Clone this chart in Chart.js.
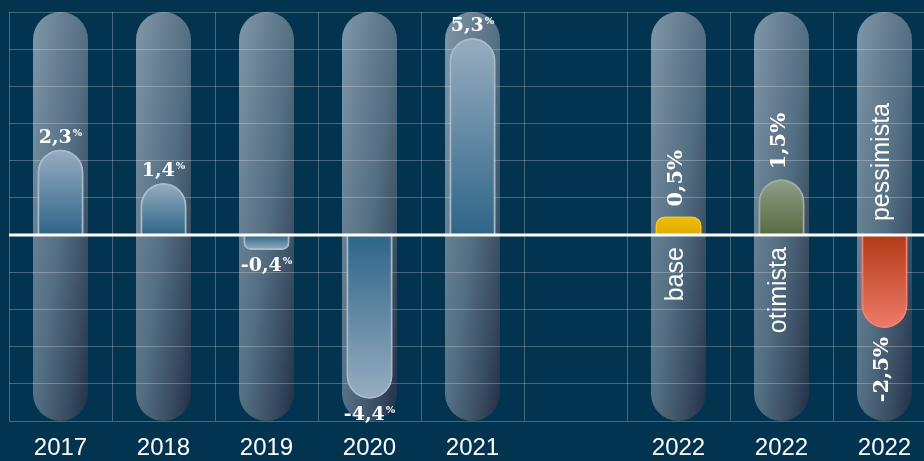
<!DOCTYPE html>
<html>
<head>
<meta charset="utf-8">
<script src="https://cdn.jsdelivr.net/npm/chart.js@4.4.1/dist/chart.umd.min.js"></script>
<style>
html, body { margin: 0; padding: 0; background: #03344f; overflow: hidden; width: 924px; height: 461px; }
#wrap { position: absolute; left: 0; top: 0; width: 960px; height: 476px; }
</style>
</head>
<body>
<div id="wrap"><canvas id="myChart"></canvas></div>
<script>
// data
let years = ['2017', '2018', '2019', '2020', '2021', '', '2022', '2022', '2022']
let growth = [2.3, 1.4, -0.4, -4.4, 5.3, null, 0.5, 1.5, -2.5]
let valueLabels = ['2,3', '1,4', '-0,4', '-4,4', '5,3', '', '0,5', '1,5', '-2,5']
let scenarios = ['', '', '', '', '', '', 'base', 'otimista', 'pessimista']
let yMin = -5
let yMax = 6
let capsules = years.map(y => y ? [yMin, yMax] : null)

// [colour at zero, colour at tip, border]
let blue = ['#2e6588', '#97adc0', '#a7bac8']
let barColors = [blue, blue, blue, blue, blue, null,
    ['#e2a900', '#f0bd00', '#f6c526'],
    ['#586a3e', '#8e9e8c', '#a2ac9d'],
    ['#b13a15', '#ef7b6b', '#f3816f']]

// light at top-left, dark navy at bottom-right
function capsuleFill(ctx) {
    let x = ctx.chart.scales.x
    let y = ctx.chart.scales.y
    if (!x || !y) return '#5f7789'
    let cx = x.getPixelForValue(ctx.dataIndex)
    let W = (x.getPixelForValue(1) - x.getPixelForValue(0)) * 0.534
    let top = y.getPixelForValue(yMax)
    let H = y.getPixelForValue(yMin) - top
    if (!isFinite(cx) || !isFinite(W) || !isFinite(H) || H <= 0) return '#5f7789'
    let ux = 0.5 / W, uy = 0.5 / H
    let n = ux * ux + uy * uy
    let x0 = cx - W / 2
    let g = ctx.chart.ctx.createLinearGradient(x0, top, x0 + ux / n, top + uy / n)
    g.addColorStop(0, '#7f98a9')
    g.addColorStop(0.33, '#637b8e')
    g.addColorStop(0.5, '#557084')
    g.addColorStop(0.8, '#394c61')
    g.addColorStop(1, '#212e48')
    return g
}

function barFill(ctx) {
    let i = ctx.dataIndex
    let y = ctx.chart.scales.y
    let c = barColors[i]
    if (!y || !c) return 'transparent'
    let p0 = y.getPixelForValue(0)
    let p1 = y.getPixelForValue(growth[i])
    if (!isFinite(p0) || !isFinite(p1) || p0 === p1) return c[1]
    let g = ctx.chart.ctx.createLinearGradient(0, p0, 0, p1)
    g.addColorStop(0, c[0])
    g.addColorStop(1, c[1])
    return g
}

let labelPlugin = {
    id: 'labels',
    afterDraw(chart) {
        let ctx = chart.ctx
        let x = chart.scales.x
        let y = chart.scales.y
        let area = chart.chartArea
        // bars above the grid
        chart.getDatasetMeta(0).controller.draw()
        let y0 = y.getPixelForValue(0)
        ctx.save()
        ctx.strokeStyle = '#ffffff'
        ctx.lineWidth = 3
        ctx.beginPath()
        ctx.moveTo(area.left, y0)
        ctx.lineTo(area.right, y0)
        ctx.stroke()
        ctx.fillStyle = '#ffffff'
        growth.forEach((v, i) => {
            if (v == null) return
            let cx = x.getPixelForValue(i)
            let tip = y.getPixelForValue(v)
            if (scenarios[i]) {
                ctx.save()
                ctx.font = 'bold 21px "DejaVu Serif"'
                ctx.textBaseline = 'middle'
                ctx.translate(cx - 2, v > 0 ? tip - 10 : tip + 9)
                ctx.rotate(-Math.PI / 2)
                ctx.textAlign = v > 0 ? 'left' : 'right'
                ctx.fillText(valueLabels[i] + '%', 0, 0)
                ctx.restore()

                ctx.save()
                ctx.font = '25px "Liberation Sans", Arial'
                ctx.textBaseline = 'middle'
                ctx.translate(cx - 2, v > 0 ? y0 + 12 : y0 - 14)
                ctx.rotate(-Math.PI / 2)
                ctx.textAlign = v > 0 ? 'right' : 'left'
                ctx.fillText(scenarios[i], 0, 0)
                ctx.restore()
            } else {
                let yc = v > 0 ? tip - 14 : tip + 14
                ctx.textAlign = 'left'
                ctx.textBaseline = 'alphabetic'
                ctx.font = 'bold 19px "DejaVu Serif"'
                let w1 = ctx.measureText(valueLabels[i]).width
                ctx.font = 'bold 10px "DejaVu Serif"'
                let w2 = ctx.measureText('%').width
                let left = cx - (w1 + w2 + 1) / 2
                ctx.font = 'bold 19px "DejaVu Serif"'
                ctx.fillText(valueLabels[i], left, yc + 7)
                ctx.font = 'bold 10px "DejaVu Serif"'
                ctx.fillText('%', left + w1 + 1, yc)
            }
        })
        ctx.restore()
    }
}

let chart = new Chart(document.getElementById('myChart'), {
    type: 'bar',
    data: {
        labels: years,
        datasets: [{
            data: growth,
            order: 0,
            grouped: false,
            backgroundColor: barFill,
            borderColor: growth.map((v, i) => barColors[i] ? barColors[i][2] : 'transparent'),
            borderWidth: 2,
            borderRadius: 23,
            barPercentage: 0.447,
            categoryPercentage: 1
        }, {
            data: capsules,
            order: 1,
            grouped: false,
            backgroundColor: capsuleFill,
            borderWidth: 0,
            borderRadius: 28,
            borderSkipped: false,
            barPercentage: 0.534,
            categoryPercentage: 1
        }]
    },
    options: {
        responsive: true,
        maintainAspectRatio: false,
        animation: false,
        layout: { padding: { left: 9, top: 12, right: 24, bottom: 1 } },
        plugins: { legend: { display: false }, tooltip: { enabled: false } },
        scales: {
            x: {
                grid: { color: 'rgba(255,255,255,0.25)', drawTicks: false, z: 1 },
                border: { display: false },
                ticks: {
                    color: '#ffffff',
                    padding: 15,
                    maxRotation: 0,
                    autoSkip: false,
                    font: { family: '"Liberation Sans", Arial', size: 24, lineHeight: 1 }
                }
            },
            y: {
                min: yMin,
                max: yMax,
                grid: { color: 'rgba(255,255,255,0.25)', drawTicks: false, z: 1 },
                border: { display: false },
                ticks: { display: false, stepSize: 1 }
            }
        }
    },
    plugins: [labelPlugin]
})
// gradients need final scale positions
chart.update()
</script>
</body>
</html>
